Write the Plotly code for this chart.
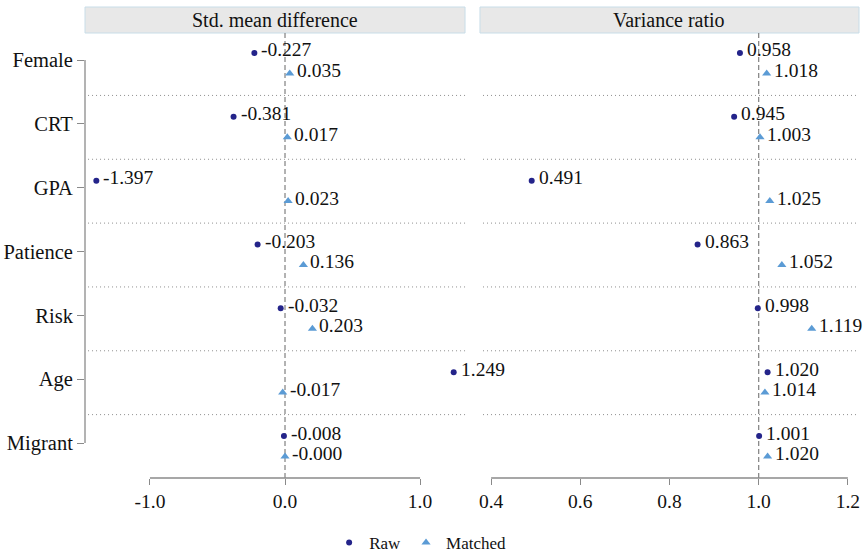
import plotly.graph_objects as go

categories = ["Female", "CRT", "GPA", "Patience", "Risk", "Age", "Migrant"]
smd_raw = [-0.227, -0.381, -1.397, -0.203, -0.032, 1.249, -0.008]
smd_matched = [0.035, 0.017, 0.023, 0.136, 0.203, -0.017, -0.0]
vr_raw = [0.958, 0.945, 0.491, 0.863, 0.998, 1.020, 1.001]
vr_matched = [1.018, 1.003, 1.025, 1.052, 1.119, 1.014, 1.020]
panel_titles = ["Std. mean difference", "Variance ratio"]
ref_lines = [0.0, 1.0]
x_ticks = [[-1.0, 0.0, 1.0], [0.4, 0.6, 0.8, 1.0, 1.2]]

RAW_C = "#24248a"
MAT_C = "#5b9bd5"
FONT = "Liberation Serif"
GRAY = "#8a8a8a"

pos = list(range(1, len(categories) + 1))
raw_y = [p - 0.11 for p in pos]
mat_y = [p + 0.21 for p in pos]

fig = go.Figure()
panels = [(smd_raw, smd_matched, "x", "y"), (vr_raw, vr_matched, "x2", "y2")]
annotations = []
for k, (rv, mv, xa, ya) in enumerate(panels):
    fig.add_trace(go.Scatter(x=rv, y=raw_y, mode="markers", name="Raw",
                             marker=dict(symbol="circle", size=6, color=RAW_C),
                             xaxis=xa, yaxis=ya, showlegend=(k == 0)))
    fig.add_trace(go.Scatter(x=mv, y=mat_y, mode="markers", name="Matched",
                             marker=dict(symbol="triangle-up", size=8, color=MAT_C),
                             xaxis=xa, yaxis=ya, showlegend=(k == 0)))
    for vals, ys in ((rv, raw_y), (mv, mat_y)):
        for v, yy in zip(vals, ys):
            annotations.append(dict(x=v, y=yy, xref=xa, yref=ya, text=f"{v:.3f}",
                                    showarrow=False, xanchor="left", yanchor="middle",
                                    xshift=5, yshift=3,
                                    font=dict(family=FONT, size=19.5, color="#111")))

shapes = []
for k, xa in enumerate(["x", "x2"]):
    ya = "y" if k == 0 else "y2"
    # strip
    shapes.append(dict(type="rect", xref=f"{xa} domain", yref=f"{ya} domain",
                       x0=0, x1=1, y0=1.0, y1=1.0584, fillcolor="#e8e8e8",
                       line=dict(color="#c8dde8", width=1), layer="below"))
    annotations.append(dict(x=0.5, y=1.03, xref=f"{xa} domain", yref=f"{ya} domain",
                            text=panel_titles[k], showarrow=False,
                            font=dict(family=FONT, size=20, color="#111"),
                            xanchor="center", yanchor="middle"))
    # separators between categories
    for p in pos[:-1]:
        shapes.append(dict(type="line", xref=f"{xa} domain", yref=ya,
                           x0=0.008, x1=1, y0=p + 0.555, y1=p + 0.555,
                           line=dict(color="#8f8f8f", width=1, dash="1px,3px"), layer="below"))
    # reference dashed line
    shapes.append(dict(type="line", xref=xa, yref=f"{ya} domain",
                       x0=ref_lines[k], x1=ref_lines[k], y0=0, y1=1,
                       line=dict(color=GRAY, width=1.3, dash="5px,3px"), layer="below"))
    # x axis line spanning ticks
    shapes.append(dict(type="line", xref=xa, yref=f"{ya} domain",
                       x0=x_ticks[k][0], x1=x_ticks[k][-1], y0=0, y1=0,
                       line=dict(color=GRAY, width=1.3)))

# y axis line spanning categories
shapes.append(dict(type="line", xref="x domain", yref="y",
                   x0=0, x1=0, y0=pos[0], y1=pos[-1],
                   line=dict(color=GRAY, width=1.3)))

axis_common = dict(showgrid=False, zeroline=False, showline=False)
fig.update_layout(
    width=865, height=552,
    margin=dict(l=85, r=6, t=33, b=74, autoexpand=False),
    paper_bgcolor="white", plot_bgcolor="white",
    font=dict(family=FONT, size=19, color="#111"),
    xaxis=dict(domain=[0, 0.491], range=[-1.481, 1.333], tickvals=x_ticks[0],
               ticktext=[f"{v:.1f}" for v in x_ticks[0]], ticks="outside", ticklen=6,
               tickcolor=GRAY, tickwidth=1.3, tickfont=dict(size=19.5), **axis_common),
    xaxis2=dict(domain=[0.5103, 1], range=[0.375, 1.225], tickvals=x_ticks[1],
                ticktext=[f"{v:.1f}" for v in x_ticks[1]], ticks="outside", ticklen=6,
                tickcolor=GRAY, tickwidth=1.3, anchor="y2", tickfont=dict(size=19.5),
                **axis_common),
    yaxis=dict(range=[7.548, 0.577], tickvals=pos, ticktext=categories,
               ticks="outside", ticklen=7, tickcolor=GRAY, tickwidth=1.3,
               tickfont=dict(size=20.5), **axis_common),
    yaxis2=dict(range=[7.548, 0.577], showticklabels=False, ticks="", anchor="x2",
                **axis_common),
    showlegend=True,
    legend=dict(orientation="h", x=0.433, xanchor="center", y=-0.146, yanchor="middle",
                font=dict(family=FONT, size=17), bgcolor="rgba(0,0,0,0)"),
    shapes=shapes, annotations=annotations,
)

fig.write_html("out.html")
